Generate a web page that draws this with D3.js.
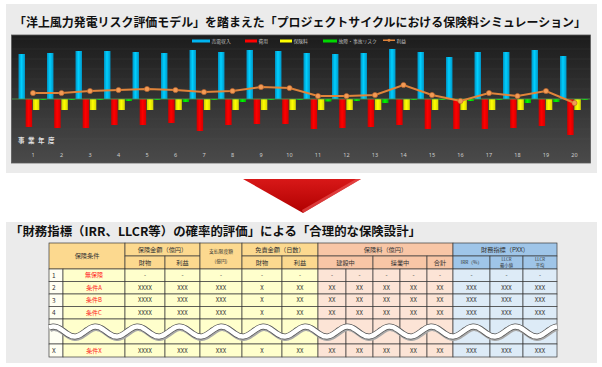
<!DOCTYPE html>
<html>
<head>
<meta charset="utf-8">
<script src="https://cdn.jsdelivr.net/npm/d3@7"></script>
<style>
  body { margin: 0; background: #fff; }
  svg { display: block; font-family: "Noto Sans CJK JP", "Noto Sans", sans-serif; }
</style>
</head>
<body>
<script>
// chart data (arbitrary units)
const years = d3.range(1, 21);
const revenue = [45, 46, 48, 48, 47, 46, 49, 47, 49, 48, 46, 45, 46, 50, 47, 42, 47, 47, 49, 43];
const cost = [-28, -29, -29, -26, -26, -24, -32, -26, -25, -25, -30, -29, -28, -26, -30, -30, -30, -29, -27, -36];
const premium = [-11, -11, -11, -11, -11, -11, -11, -11, -11, -11, -11, -11, -11, -11, -11, -11, -11, -11, -11, -11];
const risk = [-1, -1, -1, -2, -1, -3, -1, -3, -1, -1, -2.5, -2, -4, -1, -1, -2, -1, -4, -3, -1];
const profit = [6, 6, 8, 9, 10, 9, 7, 8, 12, 11, 3, 3, 4, 14, 4, -2, 6, 3, 8, -4];
const seriesNames = ['売電収入', '費用', '保険料', '故障・事故リスク', '利益'];

// table data
const rowNos = ['1', '2', '3', '4', 'X'];
const conditions = ['無保険', '条件A', '条件B', '条件C', '条件X'];
const noInsurance = ['-', '-', '-', '-', '-', '-', '-', '-', '-', '-', '-', '-', '-'];
const withInsurance = ['XXXX', 'XXX', 'XXX', 'X', 'XX', 'XX', 'XX', 'XX', 'XX', 'XX', 'XXX', 'XXX', 'XXX'];

const W = 602, H = 367;
const svg = d3.select('body').append('svg').attr('width', W).attr('height', H);
const defs = svg.append('defs');

// background panels
svg.append('rect').attr('x', 6).attr('y', 4).attr('width', 591).attr('height', 169).attr('fill', '#ebebeb');
svg.append('rect').attr('x', 6).attr('y', 222).attr('width', 591).attr('height', 141).attr('fill', '#ebebeb');

svg.append('text').attr('x', 14).attr('y', 26.5)
  .attr('font-size', 12).attr('font-weight', 'bold').attr('fill', '#111')
  .attr('textLength', 572).attr('lengthAdjust', 'spacingAndGlyphs')
  .text('「洋上風力発電リスク評価モデル」を踏まえた「プロジェクトサイクルにおける保険料シミュレーション」');

// dark chart area
const bg = defs.append('linearGradient').attr('id', 'bg').attr('x1', 0).attr('y1', 0).attr('x2', 0).attr('y2', 1);
bg.append('stop').attr('offset', '0%').attr('stop-color', '#1c1c1c');
bg.append('stop').attr('offset', '100%').attr('stop-color', '#4a4a4a');
svg.append('rect').attr('x', 11.5).attr('y', 35).attr('width', 579).attr('height', 128)
  .attr('fill', 'url(#bg)').attr('stroke', '#5a5a5a').attr('stroke-width', 0.8);

const y = d3.scaleLinear().domain([-40, 60]).range([139, 39]);
const x = d3.scaleBand().domain(years).range([18.75, 588.75]);
const keys = ['revenue', 'cost', 'premium', 'risk'];
const xs = d3.scaleBand().domain(keys).range([-14.5, 13.5]).paddingInner(0.1);
const colors = { revenue: '#00b4f0', cost: '#ff0000', premium: '#ffff00', risk: '#00d800' };
const values = { revenue, cost, premium, risk };

// faint grid
svg.append('g').selectAll('line').data(d3.range(-40, 61, 10)).join('line')
  .attr('x1', 12).attr('x2', 590).attr('y1', d => y(d)).attr('y2', d => y(d))
  .attr('stroke', '#666').attr('stroke-opacity', 0.25).attr('stroke-width', 0.6);

// bar gradients for a cylinder look
keys.forEach(k => {
  const g = defs.append('linearGradient').attr('id', 'g-' + k).attr('x1', 0).attr('x2', 1);
  const c = d3.color(colors[k]);
  g.append('stop').attr('offset', '0%').attr('stop-color', c.darker(0.6));
  g.append('stop').attr('offset', '45%').attr('stop-color', c.brighter(0.4));
  g.append('stop').attr('offset', '100%').attr('stop-color', c.darker(0.5));
});

keys.forEach(k => {
  svg.append('g').selectAll('rect').data(values[k]).join('rect')
    .attr('x', (d, i) => x(years[i]) + x.bandwidth() / 2 + xs(k))
    .attr('width', xs.bandwidth())
    .attr('y', d => y(Math.max(0, d)))
    .attr('height', d => Math.abs(y(d) - y(0)))
    .attr('fill', 'url(#g-' + k + ')');
});

// zero line
svg.append('line').attr('x1', 12).attr('x2', 590).attr('y1', y(0)).attr('y2', y(0))
  .attr('stroke', '#4f9a4f').attr('stroke-width', 0.8);

// profit line
const cx = (d, i) => x(years[i]) + x.bandwidth() / 2;
svg.append('path').datum(profit)
  .attr('d', d3.line().x(cx).y(d => y(d)))
  .attr('fill', 'none').attr('stroke', '#e0843a').attr('stroke-width', 2);
svg.append('g').selectAll('circle').data(profit).join('circle')
  .attr('cx', cx).attr('cy', d => y(d)).attr('r', 2.6)
  .attr('fill', '#f29a55').attr('stroke', '#c0652a').attr('stroke-width', 0.6);

// x axis
const xAxis = svg.append('g').attr('transform', 'translate(0,155)')
  .call(d3.axisBottom(x).tickSize(0).tickPadding(0));
xAxis.select('.domain').remove();
xAxis.selectAll('text').attr('fill', '#cfcfcf').attr('font-size', 5.5).attr('dy', '0.35em')
  .attr('font-family', '"Noto Sans", sans-serif');
svg.append('text').attr('x', 18).attr('y', 142.5).attr('fill', '#e0e0e0')
  .attr('font-size', 6.5).attr('font-weight', 'bold').attr('letter-spacing', 3.5)
  .text('事業年度');

// legend
const legendX = [192, 245, 280, 323, 383];
const legendSw = [18, 12, 12, 14, 12];
const legendCol = ['#00b4f0', '#ff0000', '#ffff00', '#00d800', '#e0843a'];
const lg = svg.append('g').selectAll('g').data(seriesNames).join('g')
  .attr('transform', (d, i) => `translate(${legendX[i]},41)`);
lg.append('rect').attr('x', 0).attr('y', -1.5).attr('width', (d, i) => legendSw[i]).attr('height', (d, i) => i === 4 ? 1.5 : 3)
  .attr('fill', (d, i) => legendCol[i]);
lg.filter((d, i) => i === 4).append('circle').attr('cx', 6).attr('cy', -0.75).attr('r', 1.5).attr('fill', '#e0843a');
lg.append('text').attr('x', (d, i) => legendSw[i] + 1.5).attr('y', 1.8).attr('fill', '#bdbdbd').attr('font-size', 4.8)
  .text(d => d);

// red arrow
const ar = defs.append('linearGradient').attr('id', 'ar').attr('x1', 0).attr('y1', 0).attr('x2', 0).attr('y2', 1);
ar.append('stop').attr('offset', '0%').attr('stop-color', '#d81818');
ar.append('stop').attr('offset', '100%').attr('stop-color', '#b00000');
svg.append('path').attr('d', 'M243,179 L361,179 L303,213 Z').attr('fill', 'url(#ar)');
svg.append('path').attr('d', 'M361,179 L303,213 L302,210 L356,179 Z').attr('fill', '#e85050').attr('opacity', 0.7);

svg.append('text').attr('x', 10).attr('y', 235.5)
  .attr('font-size', 12).attr('font-weight', 'bold').attr('fill', '#111')
  .attr('textLength', 411).attr('lengthAdjust', 'spacingAndGlyphs')
  .text('「財務指標（IRR、LLCR等）の確率的評価」による「合理的な保険設計」');

// table
const colEdges = [49, 63, 125, 165, 200, 242, 282, 318, 346, 373, 400, 427, 453, 490, 523, 557];
const rowEdges = [243, 256, 269, 281.5, 294, 306.5, 319, 344, 357];
const headFill = ['#fcd98f', '#f8c6a6', '#9fc5e8'];
const bodyFill = ['#ffffcc', '#fce4d6', '#ddebf7'];
const colGroup = c => c <= 6 ? 0 : c <= 11 ? 1 : 2;
const border = '#3a3a3a';
const tbl = svg.append('g');

const headers = [
  { t: ['保険条件'], c0: 0, c1: 1, r0: 0, r1: 1 },
  { t: ['保険金額（億円）'], c0: 2, c1: 3, r0: 0, r1: 0 },
  { t: ['財物'], c0: 2, c1: 2, r0: 1, r1: 1 },
  { t: ['利益'], c0: 3, c1: 3, r0: 1, r1: 1 },
  { t: ['支払限度額', '(億円)'], c0: 4, c1: 4, r0: 0, r1: 1, small: true, lh: 10 },
  { t: ['免責金額（日数）'], c0: 5, c1: 6, r0: 0, r1: 0 },
  { t: ['財物'], c0: 5, c1: 5, r0: 1, r1: 1 },
  { t: ['利益'], c0: 6, c1: 6, r0: 1, r1: 1 },
  { t: ['保険料（億円）'], c0: 7, c1: 11, r0: 0, r1: 0 },
  { t: ['建設中'], c0: 7, c1: 8, r0: 1, r1: 1 },
  { t: ['操業中'], c0: 9, c1: 10, r0: 1, r1: 1 },
  { t: ['合計'], c0: 11, c1: 11, r0: 1, r1: 1 },
  { t: ['財務指標（PXX）'], c0: 12, c1: 14, r0: 0, r1: 0 },
  { t: ['IRR（%）'], c0: 12, c1: 12, r0: 1, r1: 1, small: true },
  { t: ['LLCR', '最小値'], c0: 13, c1: 13, r0: 1, r1: 1, small: true, lh: 5.6, size: 4.3 },
  { t: ['LLCR', '平均'], c0: 14, c1: 14, r0: 1, r1: 1, small: true, lh: 5.6, size: 4.3 }
];

const cell = (x0, x1, y0, y1, fill, lines, color, size, lh) => {
  tbl.append('rect').attr('x', x0).attr('y', y0).attr('width', x1 - x0).attr('height', y1 - y0)
    .attr('fill', fill).attr('stroke', border).attr('stroke-width', 0.7);
  const step = lh || size + 1;
  return lines.map((l, j) => tbl.append('text').attr('x', (x0 + x1) / 2)
    .attr('y', (y0 + y1) / 2 + (j - (lines.length - 1) / 2) * step)
    .attr('dy', '0.35em').attr('text-anchor', 'middle')
    .attr('font-size', size).attr('fill', color).text(l));
};

headers.forEach(h => {
  cell(colEdges[h.c0], colEdges[h.c1 + 1], rowEdges[h.r0], rowEdges[h.r1 + 1],
    headFill[colGroup(h.c0)], h.t, '#333', h.size || (h.small ? 4.8 : 6.2), h.lh);
});

// body rows: 4 rows, then a gap row, then the last row
const bodyRows = [0, 1, 2, 3, null, 4];
bodyRows.forEach((r, k) => {
  const y0 = rowEdges[2 + k], y1 = rowEdges[3 + k];
  const vals = r === null ? null : [rowNos[r], conditions[r]].concat(r === 0 ? noInsurance : withInsurance);
  for (let c = 0; c < 15; c++) {
    const fill = c === 0 ? '#fffff2' : bodyFill[colGroup(c)];
    const txt = vals ? [vals[c]] : [];
    const col = c === 1 ? '#ff1a1a' : '#333';
    const t = cell(colEdges[c], colEdges[c + 1], y0, y1, fill, txt, col, c === 0 ? 6.5 : 6);
    if (c === 0) t.forEach(s => s.attr('text-anchor', 'start').attr('x', colEdges[0] + 3));
  }
});

// wavy break line
const wave = d3.range(0, 509, 2).map(t => [49 + t, 331.5 - 5 * Math.sin((t + 6) / 42 * 2 * Math.PI)]);
const wl = d3.line().curve(d3.curveBasis);
svg.append('path').attr('d', wl(wave)).attr('fill', 'none').attr('stroke', '#a8a8a8').attr('stroke-width', 7).attr('transform', 'translate(0.8,1)');
svg.append('path').attr('d', wl(wave)).attr('fill', 'none').attr('stroke', '#555').attr('stroke-width', 6);
svg.append('path').attr('d', wl(wave)).attr('fill', 'none').attr('stroke', '#fff').attr('stroke-width', 4.5);
</script>
</body>
</html>
